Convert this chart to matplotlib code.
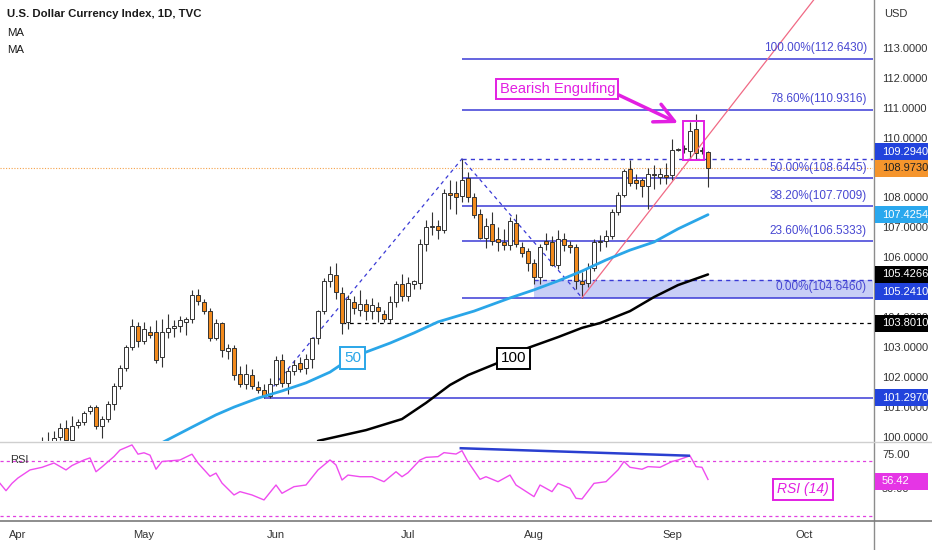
import numpy as np
import matplotlib
matplotlib.use("Agg")
import matplotlib.pyplot as plt
import matplotlib.transforms as mtransforms
from matplotlib.patches import Rectangle
from matplotlib.lines import Line2D

plt.rcParams["font.family"] = ["Liberation Sans", "DejaVu Sans"]
NARROW = ["Liberation Sans Narrow", "Liberation Sans", "DejaVu Sans"]

# x = trading-day number counted from Fri 1 Apr 2022 (weekdays only)
month_labels = ["Apr", "May", "Jun", "Jul", "Aug", "Sep", "Oct"]
month_dates = ["2022-04-01", "2022-05-02", "2022-06-01", "2022-07-01",
               "2022-08-01", "2022-09-01", "2022-10-03"]

# daily candles, 1 Apr .. 9 Sep 2022
opens = [98.30, 98.60, 99.00, 99.50, 99.60, 99.80, 99.82, 100.00, 100.30, 99.90,
         100.40, 100.50, 100.85, 101.00, 100.35, 100.60, 101.10, 101.70, 102.30, 103.00,
         103.70, 103.20, 103.50, 103.50, 102.65, 103.50, 103.65, 103.70, 103.85, 103.95,
         104.75, 104.50, 104.20, 103.30, 103.80, 102.85, 102.95, 102.10, 101.75, 102.05,
         101.65, 101.55, 101.35, 101.75, 102.55, 101.80, 102.20, 102.45, 102.30, 102.60,
         103.30, 104.20, 105.20, 105.40, 104.80, 103.85, 104.50, 104.25, 104.45, 104.20,
         104.35, 104.10, 103.95, 104.50, 105.10, 104.70, 105.10, 105.15, 106.45, 107.00,
         107.05, 106.90, 108.15, 108.15, 108.05, 108.65, 108.00, 107.45, 106.65, 107.10,
         106.60, 106.50, 106.40, 107.15, 106.35, 106.20, 105.80, 105.35, 106.55, 106.50,
         105.75, 106.60, 106.40, 106.35, 105.20, 105.15, 105.65, 106.50, 106.55, 106.70,
         107.50, 108.10, 108.95, 108.60, 108.60, 108.40, 108.80, 108.70, 108.75, 108.75,
         109.60, 109.62, 109.55, 110.28, 109.55, 109.52]
highs = [98.90, 99.10, 99.60, 99.80, 100.00, 100.15, 100.20, 100.45, 100.55, 100.70,
         100.60, 100.85, 101.05, 101.05, 100.70, 101.20, 101.80, 102.40, 103.05, 103.93,
         103.85, 103.85, 103.70, 103.90, 103.94, 104.10, 103.90, 104.05, 104.00, 104.92,
         104.95, 104.60, 104.30, 103.95, 103.85, 103.10, 103.05, 102.35, 102.43, 102.25,
         101.85, 101.75, 101.96, 102.70, 102.75, 102.30, 102.55, 102.65, 102.75, 103.35,
         104.25, 105.30, 105.70, 105.80, 105.00, 104.75, 104.70, 104.90, 104.60, 104.65,
         104.50, 104.25, 104.70, 105.20, 105.45, 105.35, 105.25, 106.60, 107.25, 107.50,
         107.25, 108.30, 108.60, 108.55, 109.294, 108.85, 108.15, 107.60, 107.30, 107.50,
         107.00, 106.95, 107.35, 107.45, 106.50, 106.30, 105.95, 106.45, 106.80, 106.70,
         106.90, 106.80, 106.55, 106.45, 105.50, 105.80, 106.60, 106.75, 106.90, 107.60,
         108.20, 108.95, 109.25, 108.80, 108.65, 109.00, 109.10, 109.00, 109.15, 109.96,
         109.65, 109.75, 110.53, 110.79, 109.70, 109.55]
lows = [98.10, 98.50, 98.90, 99.30, 99.50, 99.60, 99.70, 99.90, 99.85, 99.85,
        100.30, 100.40, 100.75, 100.25, 99.95, 100.50, 100.90, 101.60, 102.20, 102.90,
        103.00, 103.10, 103.30, 102.45, 102.33, 103.30, 103.35, 103.50, 103.40, 103.80,
        104.40, 104.10, 103.20, 103.25, 102.67, 102.60, 101.90, 101.65, 101.60, 101.60,
        101.45, 101.297, 101.30, 101.70, 101.65, 101.43, 102.05, 102.15, 102.10, 102.30,
        103.10, 104.10, 105.00, 104.60, 103.43, 103.60, 104.10, 104.05, 103.90, 103.95,
        103.85, 103.85, 103.80, 104.35, 104.55, 104.55, 104.95, 104.95, 106.20, 106.75,
        106.60, 106.80, 107.60, 107.45, 107.85, 107.85, 107.30, 106.60, 106.30, 106.40,
        106.20, 106.25, 106.25, 106.35, 106.00, 105.55, 105.10, 105.10, 106.25, 105.70,
        105.60, 106.20, 106.15, 104.95, 104.646, 105.00, 105.55, 106.20, 106.35, 106.60,
        107.40, 108.00, 108.40, 108.30, 108.02, 107.60, 108.30, 108.45, 108.45, 108.60,
        109.55, 109.50, 109.30, 109.30, 109.45, 108.35]
closes = [98.60, 99.00, 99.50, 99.60, 99.80, 99.82, 99.95, 100.30, 99.90, 100.35,
          100.50, 100.80, 101.00, 100.35, 100.60, 101.10, 101.70, 102.30, 103.00, 103.70,
          103.20, 103.60, 103.40, 102.55, 103.50, 103.65, 103.70, 103.90, 103.95, 104.75,
          104.55, 104.20, 103.30, 103.80, 102.90, 102.95, 102.05, 101.75, 102.10, 101.70,
          101.55, 101.35, 101.75, 102.55, 101.80, 102.20, 102.40, 102.25, 102.60, 103.30,
          104.20, 105.20, 105.45, 104.85, 103.80, 104.60, 104.30, 104.45, 104.20, 104.40,
          104.20, 103.95, 104.50, 105.10, 104.70, 105.15, 105.20, 106.45, 107.00, 107.05,
          106.90, 108.15, 108.10, 108.00, 108.60, 108.00, 107.40, 106.65, 107.05, 106.55,
          106.50, 106.40, 107.20, 106.45, 106.15, 105.80, 105.35, 106.35, 106.45, 105.75,
          106.60, 106.40, 106.35, 105.20, 105.10, 105.65, 106.50, 106.55, 106.70, 107.50,
          108.10, 108.90, 108.50, 108.50, 108.40, 108.80, 108.75, 108.80, 108.70, 109.60,
          109.62, 109.65, 110.22, 109.50, 109.60, 108.973]

# moving averages
ma50_days = [24, 29, 33, 36, 40, 44, 48, 52, 54, 58, 62, 66, 70, 76, 82, 86,
             90, 94, 98, 102, 106, 110, 115]
ma50_vals = [99.80, 100.32, 100.73, 100.99, 101.29, 101.53, 101.80, 102.16, 102.43,
             102.83, 103.13, 103.47, 103.84, 104.20, 104.64, 104.91, 105.21, 105.54,
             105.91, 106.24, 106.51, 106.95, 107.4254]
ma100_days = [50, 58, 64, 68, 72, 75, 80, 85, 90, 94, 97, 102, 106, 110, 115]
ma100_vals = [99.86, 100.22, 100.59, 101.13, 101.73, 102.06, 102.47, 102.97, 103.33,
              103.64, 103.80, 104.20, 104.67, 105.07, 105.4266]

# RSI(14)
rsi_days = [-3, -2, -1, 0, 2, 4, 6, 8, 9, 11, 12, 13, 14, 16, 17, 19, 20, 21, 22, 23,
            24, 27, 29, 30, 32, 33, 34, 36, 37, 39, 41, 43, 44, 46, 48, 50, 52, 53, 54,
            55, 57, 59, 61, 63, 64, 65, 67, 68, 70, 71, 73, 74, 75, 77, 78, 80, 82, 83,
            86, 87, 89, 90, 92, 93, 94, 96, 98, 100, 101, 102, 104, 105, 107, 109, 110,
            112, 113, 114, 115]
rsi_vals = [53.6, 48.3, 53.6, 57.5, 63.3, 65.2, 68.3, 63.3, 66.5, 70.5, 72.0, 62.0,
            65.5, 73.0, 77.7, 81.4, 74.7, 75.7, 74.0, 63.8, 69.4, 70.5, 74.7, 68.3,
            58.7, 61.0, 53.8, 45.2, 47.6, 45.2, 41.6, 52.4, 46.4, 51.2, 52.4, 63.3,
            70.5, 66.9, 56.0, 59.6, 58.4, 58.4, 54.8, 62.0, 58.4, 61.3, 70.5, 72.4,
            72.9, 75.8, 74.8, 77.2, 69.2, 56.5, 58.4, 54.8, 59.6, 52.4, 44.0, 52.4,
            47.6, 53.6, 50.0, 42.8, 42.3, 53.6, 54.8, 63.3, 69.4, 65.2, 63.8, 65.7,
            65.2, 69.4, 70.5, 73.5, 65.7, 65.2, 56.42]
rsi_div_days = [73.8, 111.8]
rsi_div_vals = [79.0, 73.6]

# trend-based fib extension: swing points and levels
swing_days = [41, 74, 94]
swing_prices = [101.297, 109.294, 104.646]
fib_ratios = [1.0, 0.786, 0.5, 0.382, 0.236, 0.0]
fib_levels = [112.6430, 110.9316, 108.6445, 107.7009, 106.5333, 104.6460]
zone_top, zone_day = 105.241, 86
trend_days = [94, 125]
trend_prices = [104.646, 112.643]
# right-scale ticks that are not hidden behind price tags
price_ticks = [100, 101, 102, 103, 104, 106, 107, 108, 110, 111, 112, 113]

W, H = 932, 550
ORANGE = "#f28a1d"
BLUE = "#3a3ad6"
TAG_BLUE = "#2243dc"
MAGENTA = "#e21fe2"
MA50_C = "#2aa6e8"
EDGE = "#333333"

fig = plt.figure(figsize=(W / 100, H / 100), dpi=100)


def px_rect(x0, y0, x1, y1):
    return [x0 / W, 1 - y1 / H, (x1 - x0) / W, (y1 - y0) / H]


ax = fig.add_axes(px_rect(0, 0, 873, 441))
ax_rsi = fig.add_axes(px_rect(0, 442, 873, 520))
XMAX = 142.5
for a in (ax, ax_rsi):
    a.set_xlim(-3, XMAX)
    for s in a.spines.values():
        s.set_visible(False)
    a.yaxis.tick_right()
    a.tick_params(axis="y", length=0, pad=6.5, labelsize=8, labelcolor="#333333")
ax.set_ylim(99.856, 114.605)
ax_rsi.set_ylim(27.1, 83.5)

ax.set_yticks(price_ticks, labels=[f"{t:.4f}" for t in price_ticks], fontfamily=NARROW)
ax.set_xticks([])
ax_rsi.set_yticks([50, 75], labels=["50.00", "75.00"], fontfamily=NARROW)
month_pos = np.busday_count("2022-04-01", month_dates)
ax_rsi.set_xticks(month_pos, labels=month_labels)
ax_rsi.tick_params(axis="x", length=0, pad=7, labelsize=8, labelcolor="#333333")

# candles
days = np.arange(len(closes))
o, hi, lo, c = (np.array(v) for v in (opens, highs, lows, closes))
body_lo = np.minimum(o, c)
body_h = np.maximum(np.abs(c - o), 0.015)
ax.vlines(days, lo, hi, color=EDGE, lw=0.8, zorder=3)
ax.bar(days, body_h, bottom=body_lo, width=0.62,
       color=np.where(c >= o, "white", ORANGE), edgecolor=EDGE, linewidth=0.7, zorder=4)

# last price
ax.axhline(closes[-1], color="#f5a24a", ls=(0, (1, 1.5)), lw=0.8, zorder=1)

# fib extension
ax.plot(swing_days, swing_prices, color=BLUE, ls=(0, (3, 3)), lw=0.9, zorder=2)
ax.hlines(fib_levels, swing_days[1], XMAX, color=BLUE, lw=1.1, zorder=2)
for r, lv in zip(fib_ratios, fib_levels):
    ax.annotate(f"{r * 100:.2f}%({lv:.4f})", xy=(141.5, lv), xytext=(0, 7.6),
                textcoords="offset points", ha="right", va="center", fontsize=8.5,
                color="#4848d2", fontfamily=NARROW, zorder=6)
ax.hlines(swing_prices[1], swing_days[1], XMAX, color=BLUE, ls=(0, (3, 3)), lw=1, zorder=2)
ax.hlines(swing_prices[0], swing_days[0], XMAX, color=BLUE, lw=1.1, zorder=2)
ax.hlines(zone_top, zone_day, XMAX, color=BLUE, ls=(0, (3, 3)), lw=1, zorder=2)
ax.fill_between([zone_day, XMAX], swing_prices[2], zone_top, color="#3c50e0",
                alpha=0.28, lw=0, zorder=1)
ax.hlines(closes[54], 54, XMAX, color="black", ls=(0, (3, 3)), lw=0.9, zorder=2)

# rising trendline from the August low
slope = (trend_prices[1] - trend_prices[0]) / (trend_days[1] - trend_days[0])
ax.plot([trend_days[0], XMAX], [trend_prices[0], trend_prices[0] + slope * (XMAX - trend_days[0])],
        color="#f06a85", lw=0.9, zorder=5)

# moving averages
ax.plot(ma50_days, ma50_vals, color=MA50_C, lw=2.0, zorder=5, solid_capstyle="round")
ax.plot(ma100_days, ma100_vals, color="black", lw=1.8, zorder=5, solid_capstyle="round")
ax.text(55.75, 102.63, "50", ha="center", va="center", fontsize=11, color=MA50_C, zorder=7,
        bbox=dict(boxstyle="square,pad=0.25", fc="white", ec=MA50_C, lw=1.4))
ax.text(82.6, 102.62, "100", ha="center", va="center", fontsize=11, color="black", zorder=7,
        bbox=dict(boxstyle="square,pad=0.25", fc="white", ec="black", lw=1.4))

# bearish engulfing annotation
ax.add_patch(Rectangle((110.8, 109.25), 3.5, 1.31, fill=False, ec=MAGENTA, lw=1.4, zorder=7))
ax.text(89.9, 111.63, "Bearish Engulfing", ha="center", va="center", fontsize=10.5,
        color=MAGENTA, zorder=7,
        bbox=dict(boxstyle="square,pad=0.22", fc="white", ec=MAGENTA, lw=1.4))
ax.annotate("", xy=(110.0, 110.49), xytext=(100.1, 111.43),
            arrowprops=dict(arrowstyle="->,head_length=1.0,head_width=0.5", color=MAGENTA,
                            lw=2.5, mutation_scale=14, shrinkA=0, shrinkB=0), zorder=7)

# RSI pane
ax_rsi.axhline(70, color="#e040e0", ls=(0, (2.5, 2.5)), lw=0.9)
ax_rsi.axhline(30, color="#e040e0", ls=(0, (2.5, 2.5)), lw=0.9)
ax_rsi.plot(rsi_days, rsi_vals, color="#ef4cef", lw=1.0)
ax_rsi.plot(rsi_div_days, rsi_div_vals, color="#2a3fd0", lw=1.8)
ax_rsi.text(10 / 873, 0.77, "RSI", transform=ax_rsi.transAxes, fontsize=8, color="#333333",
            va="center", fontfamily=NARROW)
ax_rsi.text(130.8, 49.2, "RSI (14)", ha="center", va="center", fontsize=10, style="italic",
            color=MAGENTA, bbox=dict(boxstyle="square,pad=0.28", fc="white", ec=MAGENTA, lw=1.4))


# price tags on the right scale
def price_tag(axis, value, text, face, ink, nudge_px=0):
    yc = H - axis.transData.transform((0, value))[1] - nudge_px
    fig.add_artist(Rectangle((875 / W, 1 - (yc + 8.5) / H), 53 / W, 17 / H,
                             transform=fig.transFigure, fc=face, ec="none", zorder=5))
    fig.text(882 / W, 1 - yc / H, text, ha="left", va="center", fontsize=8, color=ink,
             fontfamily=NARROW, zorder=6)


price_tag(ax, swing_prices[1], f"{swing_prices[1]:.4f}", TAG_BLUE, "white", 7)
price_tag(ax, closes[-1], f"{closes[-1]:.4f}", "#f5952c", "#222222")
price_tag(ax, ma50_vals[-1], f"{ma50_vals[-1]:.4f}", "#2aa8ee", "white")
price_tag(ax, ma100_vals[-1], f"{ma100_vals[-1]:.4f}", "black", "white")
price_tag(ax, zone_top, f"{zone_top:.4f}", TAG_BLUE, "white", -12)
price_tag(ax, closes[54], f"{103.801:.4f}", "black", "white")
price_tag(ax, swing_prices[0], f"{swing_prices[0]:.4f}", TAG_BLUE, "white")
price_tag(ax_rsi, rsi_vals[-1], f"{rsi_vals[-1]:.2f}", "#e535e5", "white", -2)

# frame lines
fig.add_artist(Line2D([873.5 / W] * 2, [0, 1], transform=fig.transFigure, color="#8c8c8c", lw=1))
fig.add_artist(Line2D([0, 1], [1 - 441.5 / H] * 2, transform=fig.transFigure, color="#cfcfcf", lw=1))
fig.add_artist(Line2D([0, 1], [1 - 520.5 / H] * 2, transform=fig.transFigure, color="#7a7a7a", lw=1.2))

# header
fig.text(7 / W, 1 - 14 / H, "U.S. Dollar Currency Index, 1D, TVC", fontsize=8.2,
         fontweight="bold", color="#1a1a1a", va="center")
fig.text(7 / W, 1 - 33 / H, "MA", fontsize=8.2, color="#1a1a1a", va="center")
fig.text(7 / W, 1 - 50 / H, "MA", fontsize=8.2, color="#1a1a1a", va="center")
fig.text(884 / W, 1 - 14 / H, "USD", fontsize=8, color="#333333", va="center", fontfamily=NARROW)

fig.savefig("out.png", dpi=100)
